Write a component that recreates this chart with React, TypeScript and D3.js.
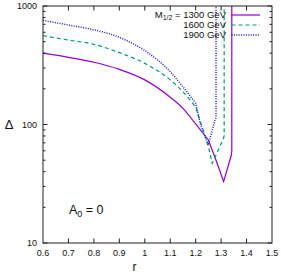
import React from "react"
import * as d3 from "d3"

// r values and Delta for each M_1/2 curve
const r1300 = [0.6, 0.7, 0.8, 0.9, 1.0, 1.1, 1.15, 1.2, 1.25, 1.28, 1.31, 1.34, 1.342, 1.342]
const d1300 = [400, 369, 335, 292, 238, 170, 137, 101, 74, 50, 33, 55, 60, 3000]

const r1600 = [0.6, 0.7, 0.8, 0.9, 1.0, 1.1, 1.15, 1.2, 1.249, 1.265, 1.309, 1.312, 1.312]
const d1600 = [562, 516, 475, 404, 328, 238, 189, 140, 67, 47, 76, 80, 3000]

const r1900 = [0.6, 0.7, 0.8, 0.9, 1.0, 1.1, 1.15, 1.2, 1.217, 1.249, 1.276, 1.28, 1.28]
const d1900 = [757, 691, 630, 544, 420, 279, 208, 151, 103, 67, 109, 115, 3000]

const xTicks = [0.6, 0.7, 0.8, 0.9, 1, 1.1, 1.2, 1.3, 1.4, 1.5]
const yTicks = [10, 100, 1000]
const yMinor = [20, 30, 40, 50, 60, 70, 80, 90, 200, 300, 400, 500, 600, 700, 800, 900]

const legend = ["1300 GeV", "1600 GeV", "1900 GeV"]

const W = 281, H = 278
const margin = { top: 6, right: 9, bottom: 35, left: 43 }
const font = "Liberation Sans, Arial, sans-serif"

export default function App() {
    const x = d3.scaleLinear().domain([0.6, 1.5]).range([margin.left, W - margin.right])
    const y = d3.scaleLog().domain([10, 1000]).range([H - margin.bottom, margin.top])
    // smooth part up to r=1.2, straight segments through the dip
    const smooth = d3.line<[number, number]>().x(d => x(d[0])).y(d => y(d[1])).curve(d3.curveMonotoneX)
    const sharp = d3.line<[number, number]>().x(d => x(d[0])).y(d => y(d[1]))

    const series = [
        { r: r1300, d: d1300, color: "#9400d3", dash: "", width: 1.2 },
        { r: r1600, d: d1600, color: "#009e73", dash: "4,3", width: 1.2 },
        { r: r1900, d: d1900, color: "#1a1aee", dash: "1,1.4", width: 1.5 },
    ]

    const x0 = margin.left, x1 = W - margin.right
    const y0 = H - margin.bottom, y1 = margin.top

    const pathOf = (s: typeof series[0]) => {
        const pts = s.r.map((v, j) => [v, s.d[j]] as [number, number])
        const a = smooth(pts.slice(0, 8)) || ""
        const b = (sharp(pts.slice(7)) || "").replace(/^M/, "L")
        return a + b
    }

    return (
        <svg width={W} height={H} style={{ position: "absolute", left: 0, top: 0 }} fontFamily={font}>
            <rect width={W} height={H} fill="white" />
            <defs>
                <clipPath id="plot">
                    <rect x={x0} y={y1} width={x1 - x0} height={y0 - y1} />
                </clipPath>
            </defs>
            <g clipPath="url(#plot)">
                {series.map((s, i) => (
                    <path key={i} d={pathOf(s)}
                        fill="none" stroke={s.color} strokeWidth={s.width} strokeDasharray={s.dash} />
                ))}
            </g>
            {/* ticks */}
            <g stroke="#222" strokeWidth={1}>
                {xTicks.slice(1, -1).map(t => (
                    <g key={t}>
                        <line x1={x(t)} x2={x(t)} y1={y0} y2={y0 - 4.5} />
                        <line x1={x(t)} x2={x(t)} y1={y1} y2={y1 + 4.5} />
                    </g>
                ))}
                {yTicks.map(t => (
                    <g key={t}>
                        <line x1={x0} x2={x0 + 4.5} y1={y(t)} y2={y(t)} />
                        <line x1={x1} x2={x1 - 4.5} y1={y(t)} y2={y(t)} />
                    </g>
                ))}
                {yMinor.map(t => (
                    <g key={t}>
                        <line x1={x0} x2={x0 + 2.5} y1={y(t)} y2={y(t)} />
                        <line x1={x1} x2={x1 - 2.5} y1={y(t)} y2={y(t)} />
                    </g>
                ))}
                <rect x={x0} y={y1} width={x1 - x0} height={y0 - y1} fill="none" />
            </g>
            {/* tick labels */}
            <g fontSize={9} fill="#111">
                {xTicks.map(t => (
                    <text key={t} x={x(t)} y={y0 + 13} textAnchor="middle">{t === 1 ? "1" : d3.format(".1f")(t)}</text>
                ))}
                {yTicks.map(t => (
                    <text key={t} x={x0 - 6} y={y(t)} dy="0.35em" textAnchor="end">{t}</text>
                ))}
            </g>
            <text x={x(0.96)} y={271} fontSize={12} textAnchor="middle" fill="#111">r</text>
            <text x={9} y={y(100)} dy="0.35em" fontSize={13} textAnchor="middle" fill="#111">Δ</text>
            <text x={69} y={214} fontSize={12.5} fill="#111">
                A<tspan fontSize={9} dy={2.5}>0</tspan><tspan dy={-2.5}> = 0</tspan>
            </text>
            {/* legend */}
            <g fontSize={9.5} fill="#111">
                {legend.map((l, i) => (
                    <g key={l}>
                        <text x={226} y={15 + i * 10} dy="0.35em" textAnchor="end">
                            {i === 0 ? (<>M<tspan fontSize={7} dy={2}>1/2</tspan><tspan dy={-2}> = {l}</tspan></>) : l}
                        </text>
                        <line x1={231.5} x2={260} y1={15 + i * 10} y2={15 + i * 10}
                            stroke={series[i].color} strokeWidth={series[i].width} strokeDasharray={series[i].dash} />
                    </g>
                ))}
            </g>
        </svg>
    )
}
